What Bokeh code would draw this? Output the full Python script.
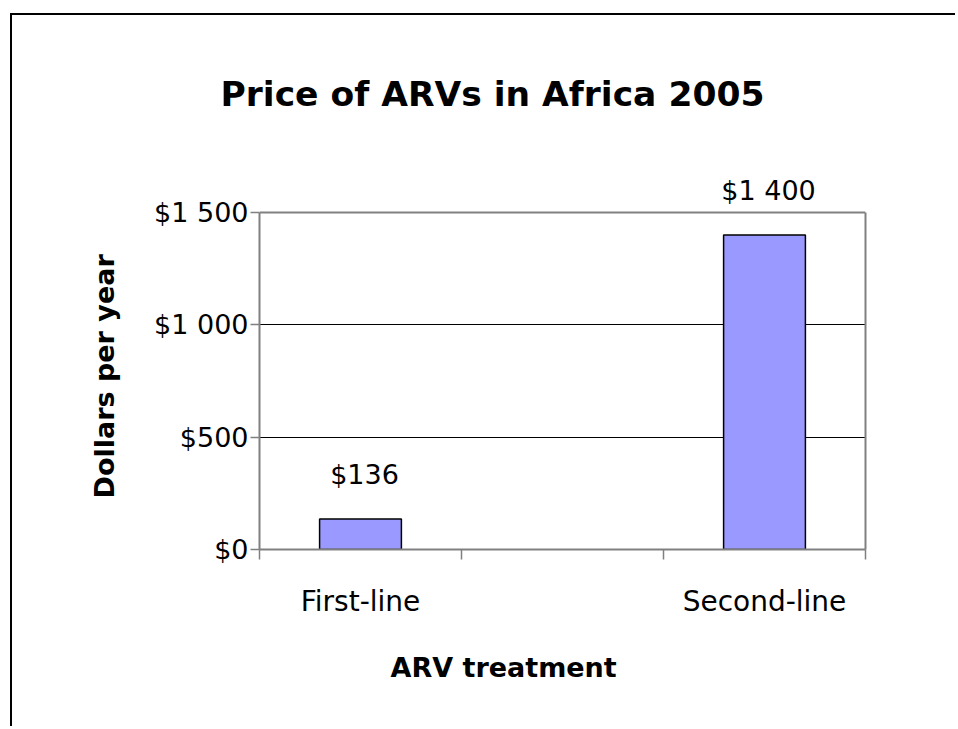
from bokeh.plotting import figure
from bokeh.models import (Range1d, LinearAxis, FixedTicker, Label, Grid, Title,
                          ColumnDataSource)
from bokeh.embed import file_html
from bokeh.resources import INLINE

# ---- data ----
categories = ["First-line", "", "Second-line"]
bar_categories = ["First-line", "Second-line"]
prices = [136, 1400]
price_labels = ["$136", "$1 400"]
y_ticks = [0, 500, 1000, 1500]
y_tick_labels = ["$0", "$500", "$1 000", "$1 500"]

FONT = "DejaVu Sans"
GREY = "#808080"

# slot positions derived from category order
slot_index = {c: i for i, c in enumerate(categories)}
bar_x = [slot_index[c] + 0.5 for c in bar_categories]
boundaries = list(range(len(categories) + 1))
y_min, y_max = y_ticks[0], y_ticks[-1]

src = ColumnDataSource(dict(x=bar_x, top=prices, label=price_labels))

# frame reaches a little above the value axis so the top data label is not clipped
p = figure(width=945, height=713, output_backend="svg", toolbar_location=None,
           x_range=Range1d(0, len(categories)), y_range=Range1d(y_min, 1700),
           x_axis_location=None, y_axis_location="left",
           min_border_left=247, min_border_right=92,
           min_border_top=152, min_border_bottom=179)

# outer chart frame (only left and top edges fall inside the window)
p.styles = {"margin-left": "10px", "margin-top": "13px",
            "border-left": "2.5px solid black", "border-top": "2.5px solid black"}

p.background_fill_color = "white"
p.border_fill_color = "white"
p.outline_line_color = None

# title
p.title.text = "Price of ARVs in Africa 2005"
p.title.text_font = FONT
p.title.text_font_size = "34.5px"
p.title.text_font_style = "bold"
p.title.text_color = "black"
p.title.align = "left"
p.title.offset = -39
p.title.standoff = 107

# y axis
ya = p.yaxis[0]
ya.bounds = (y_min, y_max)
ya.ticker = FixedTicker(ticks=y_ticks)
ya.major_label_overrides = {t: l for t, l in zip(y_ticks, y_tick_labels)}
ya.major_label_text_font = FONT
ya.major_label_text_font_size = "27px"
ya.major_label_text_color = "black"
ya.major_label_standoff = 2
ya.axis_line_color = GREY
ya.axis_line_width = 2
ya.major_tick_line_color = GREY
ya.major_tick_line_width = 1.5
ya.major_tick_in = 0
ya.major_tick_out = 9
ya.minor_tick_line_color = None

# value-axis title
p.add_layout(Title(text="Dollars per year", align="left", offset=51, standoff=63,
                   text_font=FONT, text_font_size="27px", text_font_style="bold",
                   text_color="black"), "left")

# right edge of plot area
ya_right = LinearAxis(bounds=(y_min, y_max), ticker=FixedTicker(ticks=y_ticks),
                      major_label_overrides={t: "" for t in y_ticks},
                      major_label_text_font_size="0px", major_label_standoff=0,
                      axis_line_color=GREY, axis_line_width=2,
                      major_tick_line_color=None, minor_tick_line_color=None)
p.add_layout(ya_right, "right")

# horizontal gridlines (black) and top edge of plot area (grey)
p.ygrid.ticker = FixedTicker(ticks=[t for t in y_ticks if y_min < t < y_max])
p.ygrid.grid_line_color = "black"
p.ygrid.grid_line_width = 1
p.xgrid.grid_line_color = None
p.add_layout(Grid(dimension=1, ticker=FixedTicker(ticks=[y_max]),
                  grid_line_color=GREY, grid_line_width=2))

# x axis: tick marks at category boundaries
xa_ticks = LinearAxis(ticker=FixedTicker(ticks=boundaries),
                      major_label_overrides={b: "" for b in boundaries},
                      major_label_text_font_size="0px",
                      major_label_standoff=0,
                      axis_line_color=GREY, axis_line_width=2,
                      major_tick_line_color=GREY, major_tick_line_width=1.5,
                      major_tick_in=0, major_tick_out=10,
                      minor_tick_line_color=None)
p.add_layout(xa_ticks, "below")

# x axis: category labels at slot centres
centers = [i + 0.5 for i in range(len(categories))]
xa_labels = LinearAxis(ticker=FixedTicker(ticks=centers),
                       major_label_overrides={c: n if n else " " for c, n in zip(centers, categories)},
                       major_label_text_font=FONT,
                       major_label_text_font_size="28px",
                       major_label_text_color="black",
                       major_label_standoff=19,
                       axis_line_color=None,
                       major_tick_line_color=None,
                       minor_tick_line_color=None)
p.add_layout(xa_labels, "below")

# category-axis title
p.add_layout(Title(text="ARV treatment", align="left", offset=131, standoff=58,
                   text_font=FONT, text_font_size="27px", text_font_style="bold",
                   text_color="black"), "below")

# bars
p.vbar(x="x", top="top", width=0.405, bottom=0, source=src,
       fill_color="#9999FF", line_color="black", line_width=1.5)

# data labels
for bx, top, lab in zip(bar_x, prices, price_labels):
    p.add_layout(Label(x=bx, y=top, text=lab,
                       text_font=FONT, text_font_size="27px", text_color="black",
                       text_align="center", text_baseline="alphabetic",
                       x_offset=4, y_offset=44))

open("out.html", "w").write(file_html(p, INLINE))
